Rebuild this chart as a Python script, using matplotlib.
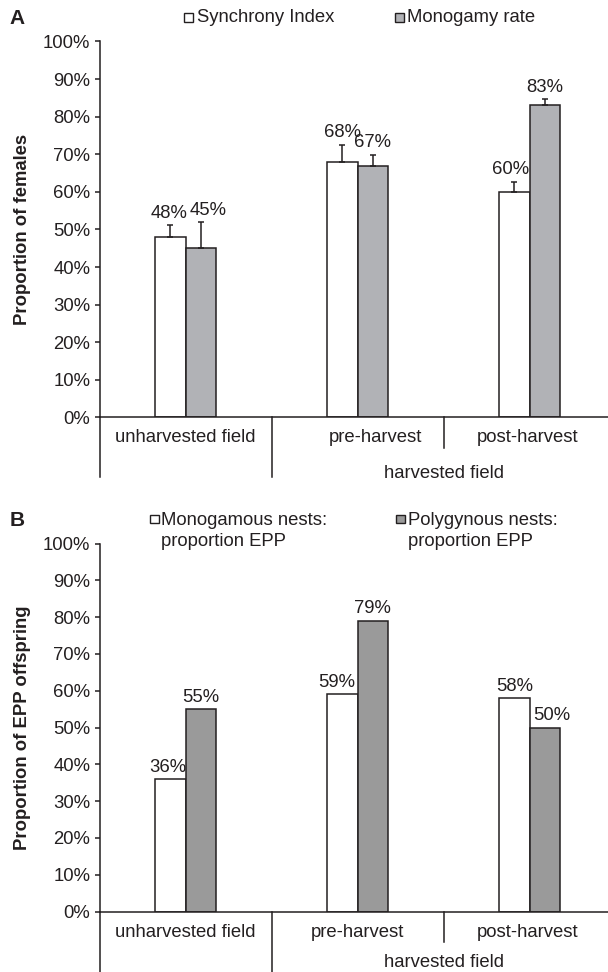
import matplotlib
matplotlib.use("Agg")
import matplotlib.pyplot as plt
from matplotlib.patches import Rectangle
from matplotlib.lines import Line2D
from matplotlib.transforms import blended_transform_factory
import numpy as np

plt.rcParams['font.family'] = ['Liberation Sans', 'DejaVu Sans']

# ---------------- data ----------------
categories = ["unharvested field", "pre-harvest", "post-harvest"]
group_label = "harvested field"

# Panel A
legend_a = ["Synchrony Index", "Monogamy rate"]
synchrony_index = [48, 68, 60]
synchrony_err = [3.1, 4.5, 2.7]
monogamy_rate = [45, 67, 83]
monogamy_err = [6.9, 2.9, 1.6]
ylabel_a = "Proportion of females"

# Panel B
legend_b = ["Monogamous nests:\nproportion EPP", "Polygynous nests:\nproportion EPP"]
monogamous_epp = [36, 59, 58]
polygynous_epp = [55, 79, 50]
ylabel_b = "Proportion of EPP offspring"

yticks = list(range(0, 101, 10))
ytick_labels = [f"{t}%" for t in yticks]

# ---------------- style ----------------
W, H = 608, 972
EDGE = "#231f20"
TXT = "#231f20"
GRAY_A = "#b1b2b6"
GRAY_B = "#9a9a9a"
FS = 13.3
FS_VAL = 13.3
PX = 0.72  # points per pixel at 100 dpi

fig = plt.figure(figsize=(W / 100, H / 100), dpi=100)


def fx(x):
    return x / W


def fy(y):
    return 1 - y / H


AX_LEFT, AX_W = 99.5, 516


def make_axes(top_px, bottom_px):
    return fig.add_axes([fx(AX_LEFT), fy(bottom_px), AX_W / W, (bottom_px - top_px) / H])


axA = make_axes(41.5, 417.5)
axB = make_axes(543.5, 911.5)

x = np.arange(len(categories))
bw = 0.178


def style_axes(ax):
    ax.set_xlim(-0.5, 2.5)
    ax.set_ylim(0, 100)
    ax.set_yticks(yticks)
    ax.set_yticklabels(ytick_labels)
    ax.tick_params(axis='y', direction='out', length=5 * PX, width=1.1,
                   color=EDGE, labelsize=FS, labelcolor=TXT, pad=4 * PX)
    ax.tick_params(axis='x', length=0, labelbottom=False)
    for s in ("top", "right"):
        ax.spines[s].set_visible(False)
    for s in ("left", "bottom"):
        ax.spines[s].set_linewidth(1.1)
        ax.spines[s].set_color(EDGE)
    ax.patch.set_visible(False)


def draw_bars(ax, v1, v2, gray, e1=None, e2=None, nudges=None):
    ax.bar(x - bw / 2, v1, bw, color="white", edgecolor=EDGE, linewidth=1.1, zorder=2)
    ax.bar(x + bw / 2, v2, bw, color=gray, edgecolor=EDGE, linewidth=1.1, zorder=2)
    tops1 = list(v1)
    tops2 = list(v2)
    if e1 is not None:
        ax.errorbar(x - bw / 2, v1, yerr=[np.zeros(len(v1)), e1], fmt='none',
                    ecolor=EDGE, elinewidth=1.1, capsize=2.4, capthick=1.1, zorder=3)
        tops1 = [a + b for a, b in zip(v1, e1)]
    if e2 is not None:
        ax.errorbar(x + bw / 2, v2, yerr=[np.zeros(len(v2)), e2], fmt='none',
                    ecolor=EDGE, elinewidth=1.1, capsize=2.4, capthick=1.1, zorder=3)
        tops2 = [a + b for a, b in zip(v2, e2)]
    k = 0
    for i in range(len(x)):
        for xpos, val, top in ((x[i] - bw / 2, v1[i], tops1[i]), (x[i] + bw / 2, v2[i], tops2[i])):
            dx = nudges[k] if nudges else 0
            ax.annotate(f"{val}%", (xpos, top), xytext=(dx * PX, 7.5 * PX),
                        textcoords='offset points', ha='center', va='baseline',
                        fontsize=FS_VAL, color=TXT)
            k += 1


def draw_categories(ax, cat_y, group_y, long_end, short_end, cat_dx):
    tr = blended_transform_factory(ax.transData, ax.transAxes)
    y0 = ax.get_position().y0 * H
    h = ax.get_position().height * H

    def afrac(ypx):  # ypx measured from top of figure
        return ((H - ypx) - y0) / h

    for xi, end in ((-0.5, long_end), (0.5, long_end), (1.5, short_end)):
        ax.add_line(Line2D([xi, xi], [0, afrac(end)], transform=tr, color=EDGE,
                           linewidth=1.1, clip_on=False))
    for i, c in enumerate(categories):
        ax.annotate(c, (x[i], afrac(cat_y)), xycoords=tr, xytext=(cat_dx[i] * PX, 0),
                    textcoords='offset points', ha='center', va='center',
                    fontsize=FS, color=TXT)
    ax.text(1.5, afrac(group_y), group_label, transform=tr, ha='center', va='center',
            fontsize=FS, color=TXT)


def legend_item(x_sq, y_sq, size, face, text_x, label, text_y):
    fig.patches.append(Rectangle((fx(x_sq), fy(y_sq + size / 2)), size / W, size / H,
                                 transform=fig.transFigure, facecolor=face,
                                 edgecolor=EDGE, linewidth=1.0))
    fig.text(fx(text_x), fy(text_y), label, ha='left', va='center', fontsize=FS,
             color=TXT, linespacing=1.3)


def set_ylabel(ax, text):
    ax.set_ylabel(text, fontsize=FS, fontweight='bold', color=TXT)
    ax.yaxis.set_label_coords((31 - AX_LEFT) / AX_W, 0.5)


# ---------------- Panel A ----------------
style_axes(axA)
draw_bars(axA, synchrony_index, monogamy_rate, GRAY_A, synchrony_err, monogamy_err,
          nudges=[-1, 7, 0, 0, -4, 0])
draw_categories(axA, 438, 473, 477, 448, (0, 18, -2))
set_ylabel(axA, ylabel_a)
fig.text(fx(17), fy(18), "A", fontsize=15, fontweight='bold', ha='center', va='center', color=TXT)
legend_item(184, 17.7, 8.5, "white", 197, legend_a[0], 18)
legend_item(395, 17.7, 8.5, GRAY_A, 407, legend_a[1], 18)

# ---------------- Panel B ----------------
style_axes(axB)
draw_bars(axB, monogamous_epp, polygynous_epp, GRAY_B,
          nudges=[-2, 0, -5, 0, 1, 7])
draw_categories(axB, 932, 962, 990, 942, (0, 0, -2))
set_ylabel(axB, ylabel_b)
fig.text(fx(17), fy(520), "B", fontsize=15, fontweight='bold', ha='center', va='center', color=TXT)
legend_item(150, 519, 8.5, "white", 161, legend_b[0], 531)
legend_item(396, 519, 8.5, GRAY_B, 408, legend_b[1], 531)

fig.savefig("out.png", dpi=100)
